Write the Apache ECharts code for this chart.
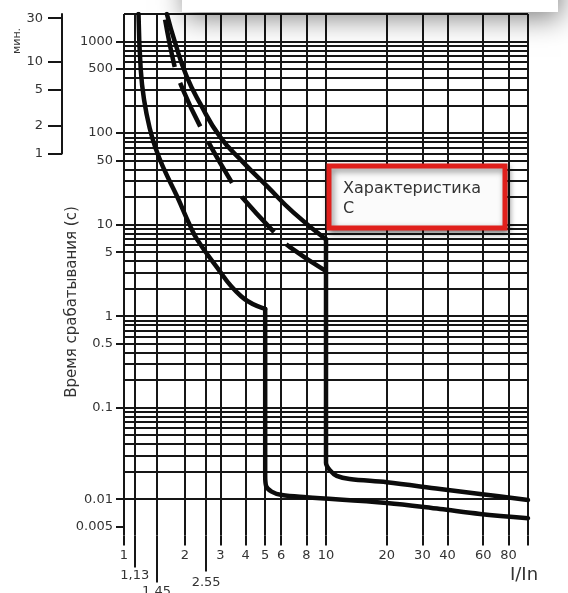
<!DOCTYPE html>
<html><head><meta charset="utf-8">
<script src="https://cdn.jsdelivr.net/npm/echarts@6/dist/echarts.min.js"></script>
<style>html,body{margin:0;padding:0;background:#fff}#c{width:568px;height:593px}</style>
</head><body><div id="c"></div>
<script>
// ---- data ----
const xGridValues = [1, 1.13, 1.45, 2, 2.55, 3, 4, 5, 6, 8, 10, 20, 30, 40, 60, 80, 100];
const yGridValues = [0.004, 0.005, 0.006, 0.007, 0.008, 0.009,
  0.01, 0.02, 0.03, 0.04, 0.05, 0.06, 0.07, 0.08, 0.09,
  0.1, 0.2, 0.3, 0.4, 0.5, 0.6, 0.7, 0.8, 0.9,
  1, 2, 3, 4, 5, 6, 7, 8, 9,
  10, 20, 30, 40, 50, 60, 70, 80, 90,
  100, 200, 300, 400, 500, 600, 700, 800, 900,
  1000, 2000];
const xTickValues = [1, 2, 3, 4, 5, 6, 8, 10, 20, 30, 40, 60, 80, 100];
const xLabelValues = [1, 2, 3, 4, 5, 6, 8, 10, 20, 30, 40, 60, 80];
const xSubValues = [1.13, 2.55, 1.45];
const xSubTexts = ['1,13', '2.55', '1.45'];
const yLabelValues = [0.005, 0.01, 0.1, 0.5, 1, 5, 10, 50, 100, 500, 1000];
const minuteLabelValues = [1, 2, 5, 10, 30];

// lower solid curve (I/In, seconds): thermal part, then magnetic part
const minUpperI = [1.18, 1.21, 1.256, 1.345, 1.44, 1.578, 1.83, 2.12, 2.3, 2.76, 3.8, 5];
const minUpperT = [2000, 497, 234, 110, 66.5, 40.3, 20.4, 9.8, 6.9, 3.9, 1.65, 1.2];
const minLowerI = [5, 5, 5.05, 5.38, 6.04, 8, 20, 36.7, 57.9, 100];
const minLowerT = [1.2, 0.018, 0.014, 0.0121, 0.0111, 0.0105, 0.0091, 0.0078, 0.0069, 0.0062];
// upper solid curve
const maxUpperI = [1.63, 1.79, 2.04, 2.38, 2.99, 3.9, 5.09, 6.89, 10];
const maxUpperT = [2000, 973, 420, 211, 91, 47.6, 26.5, 13.6, 6.9];
const maxLowerI = [10, 10, 10.5, 11.3, 13.1, 20, 36.7, 57.9, 100];
const maxLowerT = [6.9, 0.025, 0.0205, 0.018, 0.0166, 0.0153, 0.0129, 0.0114, 0.0098];
// dashed curve (listed from its lower end upwards)
const midCurveI = [10, 6.63, 5.79, 3.88, 3.46, 2.38, 1.89, 1.77, 1.58];
const midCurveT = [3.1, 5.67, 7.47, 19.4, 27.6, 119, 359, 564, 2000];

// ---- chart ----
const FONT = 'DejaVu Sans';
const INK = '#161616';
const zip = (a, b) => a.map((v, i) => [v, b[i]]);

const chart = echarts.init(document.getElementById('c'), null, {renderer: 'canvas'});
const hiddenAxisBits = {axisLine: {show: false}, splitLine: {show: false}};
const curveStyle = {color: '#0c0c0c', width: 4.5, cap: 'round', join: 'round'};
const curve = (name, I, T, smooth, extra) => Object.assign({
  type: 'line', name, xAxisIndex: 0, yAxisIndex: 0, data: zip(I, T),
  symbol: 'none', smooth, z: 5, silent: true, lineStyle: Object.assign({}, curveStyle)
}, extra || {});

const subAxis = (i, tickLen, margin) => ({
  type: 'log', logBase: 10, min: 1, max: 100, gridIndex: 0, position: 'bottom', offset: 0, ...hiddenAxisBits,
  axisTick: {show: true, customValues: [xSubValues[i]], length: tickLen, lineStyle: {color: INK, width: 2}},
  axisLabel: {customValues: [xSubValues[i]], margin, color: '#333', fontFamily: FONT, fontSize: 13,
    formatter: () => xSubTexts[i]}
});

const option = {
  animation: false,
  backgroundColor: '#fff',
  grid: [
    {left: 124, right: 40, top: 14, bottom: 57.4, containLabel: false, outerBoundsMode: 'none'},
    {left: 62, width: 10, top: 14, height: 139.4, containLabel: false, outerBoundsMode: 'none'}
  ],
  xAxis: [
    {type: 'log', logBase: 10, min: 1, max: 100, gridIndex: 0, position: 'bottom',
      axisLine: {show: false}, splitLine: {show: false},
      axisTick: {show: true, customValues: xTickValues, length: 10, lineStyle: {color: INK, width: 2}},
      axisLabel: {customValues: xLabelValues, margin: 14, color: '#333', fontFamily: FONT, fontSize: 13,
        formatter: v => String(v)}},
    subAxis(0, 32, 34),
    subAxis(1, 36, 41),
    subAxis(2, 47, 50),
    {type: 'value', gridIndex: 1, show: false, min: 0, max: 1}
  ],
  yAxis: [
    {type: 'log', logBase: 10, min: 0.004, max: 2000, gridIndex: 0,
      axisLine: {show: false}, splitLine: {show: false},
      axisTick: {show: true, customValues: yLabelValues, length: 8, lineStyle: {color: INK, width: 2}},
      axisLabel: {customValues: yLabelValues, margin: 11, color: '#333', fontFamily: FONT, fontSize: 13,
        formatter: v => String(v)}},
    {type: 'log', logBase: 10, min: 1, max: 2000 / 60, gridIndex: 1, position: 'left',
      axisLine: {show: true, lineStyle: {color: INK, width: 2}}, splitLine: {show: false},
      axisTick: {show: true, customValues: minuteLabelValues, length: 14, lineStyle: {color: INK, width: 2}},
      axisLabel: {customValues: minuteLabelValues, margin: 19, color: '#333', fontFamily: FONT, fontSize: 13,
        formatter: v => String(v)}}
  ],
  series: [
    {type: 'line', xAxisIndex: 0, yAxisIndex: 0, data: [], silent: true, z: 1,
      markLine: {silent: true, symbol: 'none', animation: false,
        label: {show: false},
        lineStyle: {color: INK, width: 2, type: 'solid'},
        emphasis: {disabled: true},
        data: [
          ...xGridValues.map(v => ({xAxis: v})),
          ...yGridValues.map(v => ({yAxis: v}))
        ]}},
    curve('min-thermal', minUpperI, minUpperT, 0.5),
    curve('min-magnetic', minLowerI, minLowerT, 0.35),
    curve('max-thermal', maxUpperI, maxUpperT, 0.5),
    curve('max-magnetic', maxLowerI, maxLowerT, 0.35),
    curve('mid', midCurveI, midCurveT, 0.5, {lineStyle: {color: '#0c0c0c', width: 4.5, type: [48, 17], cap: 'butt'}})
  ],
  graphic: [
    {type: 'rect', z: 100, shape: {x: 182, y: -70, width: 376, height: 82},
      style: {fill: '#fff', shadowBlur: 26, shadowColor: 'rgba(0,0,0,0.5)', shadowOffsetY: 6, shadowOffsetX: 3}},
    {type: 'rect', z: 100, shape: {x: 329, y: 166, width: 176, height: 62},
      style: {fill: '#fbfbfb', stroke: '#e0201c', lineWidth: 5, shadowBlur: 6, shadowColor: 'rgba(0,0,0,0.45)', shadowOffsetX: 2, shadowOffsetY: 3}},
    {type: 'text', z: 101, x: 343, y: 179,
      style: {text: 'Характеристика\nС', fill: '#333', font: '16px "DejaVu Sans"', lineHeight: 20}},
    {type: 'text', z: 101, x: 72, y: 302, rotation: Math.PI / 2,
      style: {text: 'Время срабатывания (с)', fill: '#333', font: '15px "DejaVu Sans"', align: 'center', verticalAlign: 'middle'}},
    {type: 'text', z: 101, x: 17, y: 41, rotation: Math.PI / 2,
      style: {text: 'мин.', fill: '#333', font: '11px "DejaVu Sans"', align: 'center', verticalAlign: 'middle'}},
    {type: 'text', z: 101, x: 524, y: 575,
      style: {text: 'I/In', fill: '#333', font: '18px "DejaVu Sans"', align: 'center', verticalAlign: 'middle'}}
  ]
};
chart.setOption(option);
</script>
</body></html>
